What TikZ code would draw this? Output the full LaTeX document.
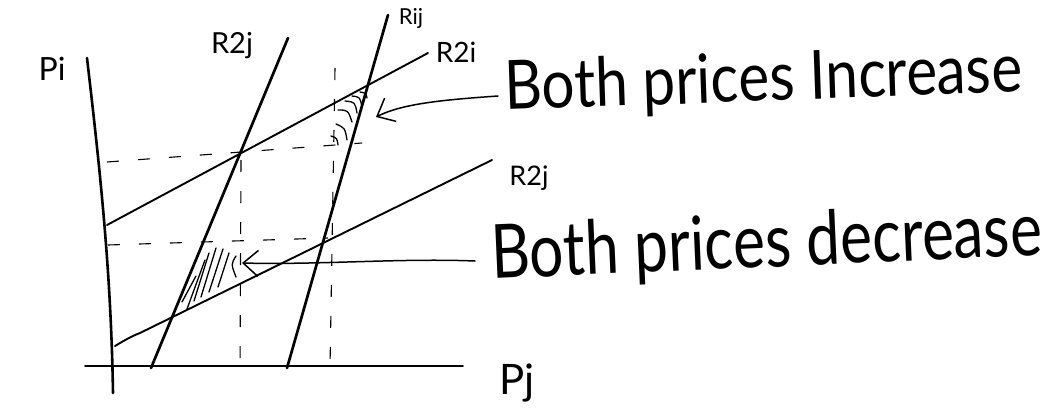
\documentclass[tikz,border=0pt]{standalone}
\usepackage{fontspec}
\setmainfont{Lato}
\usetikzlibrary{arrows.meta}
\begin{document}
\begin{tikzpicture}[x=1pt,y=-1pt,
  steepline/.style={line width=2.7pt, line cap=round},
  flatline/.style={line width=1.9pt, line cap=round},
  axisline/.style={line width=2.6pt, line cap=round},
  baseaxis/.style={line width=1.6pt, line cap=round},
  guide/.style={line width=1.1pt, dash pattern=on 12pt off 19pt},
  hatchstroke/.style={line width=1.3pt, line cap=round},
  pointer/.style={line width=1.5pt, line cap=round,
    -{Straight Barb[length=15pt,width=26pt,line width=1.5pt]}},
  lab/.style={inner sep=0pt},
]
\useasboundingbox (0,0) rectangle (1051,410);

% ---- key points ----
\coordinate (piTop) at (87,58);
\coordinate (piBot) at (113,393);
\coordinate (pjL) at (85,366);
\coordinate (pjR) at (463,366);
\coordinate (rtwojTop) at (288,38);
\coordinate (rtwojBot) at (151,368);
\coordinate (rijTop) at (388,15);
\coordinate (rijBot) at (287,368);
\coordinate (rtwoiL) at (107,225);
\coordinate (rtwoiR) at (428,53);
\coordinate (lowL) at (115,346);
\coordinate (lowR) at (492,160);

% ---- axes ----
\draw[axisline] (piTop) .. controls (100,170) and (111,270) .. (piBot);
\draw[baseaxis] (pjL) -- (pjR);

% ---- curves ----
\draw[steepline] (rtwojTop) -- (rtwojBot);
\draw[steepline] (rijTop) -- (rijBot);
\draw[flatline] (rtwoiL) -- (rtwoiR);
\draw[flatline] (lowL) .. controls (125,340) and (132,336) .. (140,333) -- (lowR);

% ---- dashed guides ----
\coordinate (hdtL) at (107,162);
\coordinate (hdtR) at (362,143);
\coordinate (hdbL) at (108,245);
\coordinate (hdbR) at (328,238);
\coordinate (vdlT) at (241,160);
\coordinate (vdlB) at (240,368);
\coordinate (vdrT) at (335,68);
\coordinate (vdrB) at (330,368);
\draw[guide] (hdtL) -- (hdtR);
\draw[guide] (hdbL) -- (hdbR);
\draw[guide] (vdlT) -- (vdlB);
\draw[guide] (vdrT) -- (vdrB);

% ---- hatching, upper region ----
\draw[hatchstroke] (338,110) .. controls (348,110) .. (352,122);
\draw[hatchstroke] (345,101) .. controls (355,102) .. (357,113);
\draw[hatchstroke] (352,96) .. controls (360,97) .. (362,107);
\draw[hatchstroke] (360,92) .. controls (366,93) .. (367,98);
\draw[hatchstroke] (336,124) .. controls (345,128) .. (347,140);
\draw[hatchstroke] (331,136) .. controls (337,138) .. (338,145);

% ---- hatching, lower region ----
\draw[hatchstroke] (182,302) -- (196,276);
\draw[hatchstroke] (187,309) -- (205,260);
\draw[hatchstroke] (194,301) -- (209,253);
\draw[hatchstroke] (201,297) -- (216,248);
\draw[hatchstroke] (209,292) -- (223,249);
\draw[hatchstroke] (218,287) -- (229,253);
\draw[hatchstroke] (236,256) .. controls (231,264) .. (236,277);

% ---- labels ----
\node[lab, font=\fontsize{32}{34}\selectfont] (pilab) at (52,69) {Pi};
\node[lab, font=\fontsize{42}{44}\selectfont] (pjlab) at (517,383) {Pj};
\node[lab, font=\fontsize{29}{31}\selectfont] (lab2j) at (232,46) {R2j};
\node[lab, font=\fontsize{22}{24}\selectfont] (labij) at (411,18) {Rij};
\node[lab, font=\fontsize{28}{30}\selectfont] (lab2i) at (456,52) {R2i};
\node[lab, font=\fontsize{27}{29}\selectfont] (lab2jb) at (529,178) {R2j};

% ---- explanations ----
\node[lab, anchor=base west, rotate=2] (inc) at (505,110)
  {\resizebox{518pt}{50pt}{Both prices Increase}};
\node[lab, anchor=base west, rotate=2.5] (dec) at (492,279)
  {\resizebox{551pt}{55pt}{Both prices decrease}};

\coordinate (incStart) at (498,96);
\coordinate (incTip) at (376,117);
\coordinate (decStart) at (475,261);
\coordinate (decTip) at (242,263);
\draw[pointer] (incStart) .. controls (440,100) and (402,104) .. (incTip);
\draw[pointer] (decStart) .. controls (400,258) and (320,265) .. (decTip);
\end{tikzpicture}
\end{document}
